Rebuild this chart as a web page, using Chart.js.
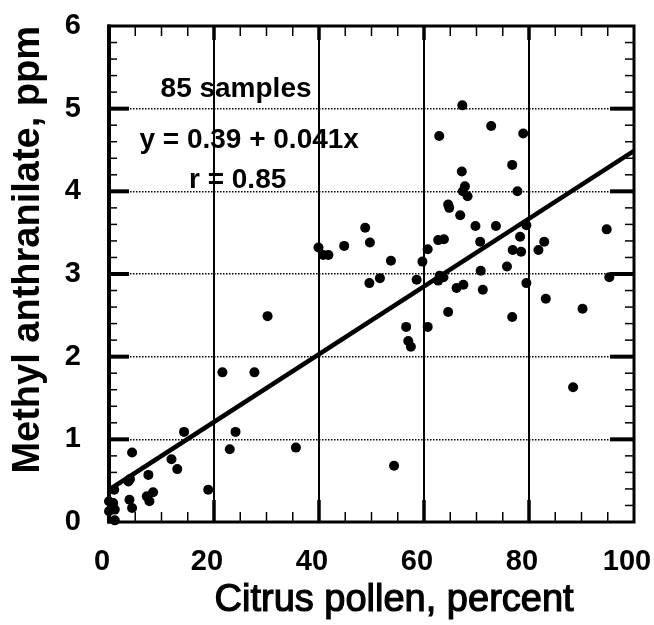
<!DOCTYPE html>
<html>
<head>
<meta charset="utf-8">
<title>Methyl anthranilate vs citrus pollen</title>
<script src="https://cdn.jsdelivr.net/npm/chart.js@4.4.1/dist/chart.umd.min.js"></script>
<style>
  html, body { margin: 0; padding: 0; background: #fff; }
  #wrap { width: 654px; height: 625px; position: relative; }
</style>
</head>
<body>
<div id="wrap"><canvas id="pollenChart"></canvas></div>
<script>
// ---- values ----
const pollenPct = [
    0, 0, 0.8, 1.1, 1.1, 1.0, 3.7, 4.0, 3.9, 4.4, 4.4, 7.2, 7.7, 8.4, 7.5,
    11.9, 13.0, 14.3, 18.9, 21.6, 23.0, 24.1, 27.7, 30.2, 35.6,
    39.9, 40.8, 41.8, 44.8, 48.8, 49.7, 49.6, 51.6, 53.7, 54.3,
    56.6, 57.0, 57.5, 58.6, 59.7, 60.7, 60.7, 62.7, 63.8, 62.9,
    63.0, 63.7, 62.7, 64.6, 64.8, 64.6, 66.2, 67.5, 66.9, 67.3,
    67.2, 67.8, 67.4, 68.3, 69.8, 70.7, 70.8, 71.2, 72.8, 73.7,
    75.8, 76.8, 76.9, 76.8, 77.8, 78.3, 78.5, 78.9, 79.5, 79.5,
    81.8, 82.9, 83.2, 88.4, 90.2, 94.8, 95.3
];
const methylPpm = [
    0.25, 0.13, 0.23, 0.15, 0.02, 0.39, 0.49, 0.52, 0.27, 0.17, 0.84, 0.31, 0.25, 0.36, 0.57,
    0.76, 0.64, 1.09, 0.39, 1.81, 0.88, 1.09, 1.81, 2.49, 0.90,
    3.32, 3.23, 3.23, 3.34, 3.56, 3.38, 2.89, 2.95, 3.16, 0.68,
    2.36, 2.19, 2.12, 2.93, 3.15, 3.30, 2.36, 3.41, 3.42, 4.67,
    2.98, 2.96, 2.92, 3.84, 3.80, 2.54, 2.83, 2.87, 3.71, 5.04,
    4.24, 4.06, 4.00, 3.94, 3.58, 3.39, 3.04, 2.81, 4.79, 3.58,
    3.09, 4.32, 3.29, 2.48, 4.00, 3.45, 3.27, 4.70, 3.59, 2.89,
    3.29, 3.39, 2.70, 1.63, 2.58, 3.54, 2.96
];

// fitted line end points
const fitX = [0, 100];
const fitY = [0.39, 4.49];

const xTicks = [0, 20, 40, 60, 80, 100];
const yTicks = [0, 1, 2, 3, 4, 5, 6];

const noteLines = ["85 samples", "y = 0.39 + 0.041x", "r = 0.85"];

// ---- drawing ----
Chart.defaults.font.family = "'Liberation Sans', Arial, sans-serif";
Chart.defaults.color = "#000";

function hLine(ctx, x1, y1, x2, y2) {
    ctx.beginPath();
    ctx.moveTo(x1, y1);
    ctx.lineTo(x2, y2);
    ctx.stroke();
}

// frame with inward ticks, like the printed figure
const framePlugin = {
    id: "frame",
    beforeDatasetsDraw(chart) {
        const { ctx, chartArea: a, scales: { x, y } } = chart;
        ctx.save();
        ctx.strokeStyle = "#000";

        for (let i = 1; i < 30; i++) {
            const py = y.getPixelForValue(i / 5);
            const major = i % 5 === 0;
            ctx.lineWidth = major ? 4 : 1.5;
            hLine(ctx, a.left, py, a.left + (major ? 20 : 8), py);
            hLine(ctx, a.right, py, a.right - (major ? 24 : 9), py);
        }

        for (let v = 5; v < 100; v += 5) {
            const px = x.getPixelForValue(v);
            const major = v % 20 === 0;
            ctx.lineWidth = major ? 3.5 : 1.5;
            hLine(ctx, px, a.bottom, px, a.bottom - (major ? 22 : 10));
            hLine(ctx, px, a.top, px, a.top + (major ? 14 : 10));
        }

        ctx.lineWidth = 3;
        ctx.strokeRect(a.left, a.top, a.right - a.left, a.bottom - a.top);
        ctx.lineWidth = 4;
        hLine(ctx, a.left, a.top - 1.5, a.left, a.bottom + 1.5);
        ctx.restore();
    }
};

// equation text and the x axis title
const textPlugin = {
    id: "texts",
    afterDraw(chart) {
        const { ctx, scales: { x, y } } = chart;
        const spots = [[24.2, 5.14], [26.7, 4.52], [24.5, 4.04]];
        ctx.save();
        ctx.fillStyle = "#000";
        ctx.strokeStyle = "#000";
        ctx.textAlign = "center";
        ctx.textBaseline = "alphabetic";
        ctx.font = "bold 28px 'Liberation Sans', Arial, sans-serif";
        noteLines.forEach((t, i) => {
            ctx.fillText(t, x.getPixelForValue(spots[i][0]), y.getPixelForValue(spots[i][1]));
        });
        ctx.font = "38px 'Liberation Sans', Arial, sans-serif";
        ctx.lineWidth = 1.2;
        const tx = x.getPixelForValue(54.3);
        ctx.fillText("Citrus pollen, percent", tx, chart.height - 14);
        ctx.strokeText("Citrus pollen, percent", tx, chart.height - 14);
        ctx.restore();
    }
};

const pollenChart = new Chart(
    document.getElementById("pollenChart"),
    {
        data: {
            datasets: [
                {
                    type: "line",
                    data: fitX.map((v, i) => ({ x: v, y: fitY[i] })),
                    borderColor: "#000",
                    borderWidth: 4.5,
                    pointRadius: 0,
                    fill: false
                },
                {
                    type: "scatter",
                    data: pollenPct.map((v, i) => ({ x: v, y: methylPpm[i] })),
                    backgroundColor: "#000",
                    borderWidth: 0,
                    pointRadius: 5,
                    clip: false
                }
            ]
        },

        options: {
            responsive: true,
            maintainAspectRatio: false,
            animation: false,
            layout: {
                padding: { top: 26, right: 20, left: 0, bottom: 0 }
            },
            plugins: {
                legend: { display: false },
                tooltip: { enabled: false }
            },
            scales: {
                x: {
                    type: "linear",
                    min: 0,
                    max: 100,
                    afterBuildTicks: s => { s.ticks = xTicks.map(v => ({ value: v })); },
                    afterFit: s => { s.height = 103; s.paddingLeft = 0; s.paddingRight = 0; },
                    ticks: {
                        font: { size: 29, weight: "bold" },
                        padding: 23,
                        labelOffset: -7,
                        maxRotation: 0,
                        autoSkip: false
                    },
                    grid: {
                        color: c => (c.tick && (c.tick.value === 0 || c.tick.value === 100)) ? "rgba(0,0,0,0)" : "#000",
                        lineWidth: 2,
                        drawTicks: false
                    },
                    border: { display: false }
                },
                y: {
                    type: "linear",
                    min: 0,
                    max: 6,
                    afterBuildTicks: s => { s.ticks = yTicks.map(v => ({ value: v })); },
                    afterFit: s => { s.width = 109; s.paddingTop = 0; s.paddingBottom = 0; },
                    ticks: {
                        font: { size: 29, weight: "bold" },
                        padding: 28
                    },
                    grid: {
                        color: c => (c.tick && (c.tick.value === 0 || c.tick.value === 6)) ? "rgba(0,0,0,0)" : "#000",
                        lineWidth: 1.5,
                        drawTicks: false
                    },
                    border: { display: false, dash: [1.5, 1.5] },
                    title: {
                        display: true,
                        text: "Methyl anthranilate, ppm",
                        align: "end",
                        font: { size: 38, weight: "bold", lineHeight: 1.2 },
                        padding: { top: 6, bottom: 0 }
                    }
                }
            }
        },

        plugins: [framePlugin, textPlugin]
    }
);
</script>
</body>
</html>
